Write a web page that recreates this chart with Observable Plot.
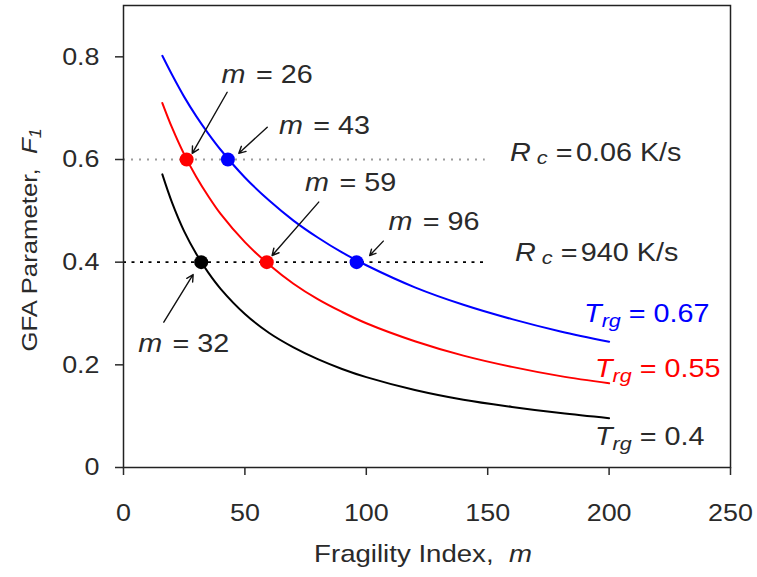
<!DOCTYPE html>
<html><head><meta charset="utf-8">
<script src="https://cdn.jsdelivr.net/npm/d3@7"></script>
<script src="https://cdn.jsdelivr.net/npm/@observablehq/plot@0.6"></script>
<style>body{margin:0;background:#fff}#chart{width:757px;height:577px}</style>
</head><body><div id="chart"></div>
<script>
// ---- data ----
const fragility = [16,20,25,30,35,40,50,60,70,80,90,100,120,140,160,180,200];
const f1Trg067 = [0.802,0.765,0.722,0.684,0.650,0.619,0.565,0.520,0.481,0.448,0.419,0.394,0.351,0.317,0.289,0.265,0.245];
const f1Trg055 = [0.710,0.662,0.610,0.566,0.528,0.494,0.439,0.395,0.358,0.328,0.303,0.281,0.246,0.218,0.196,0.178,0.164];
const f1Trg040 = [0.571,0.516,0.460,0.416,0.379,0.348,0.299,0.262,0.234,0.211,0.192,0.176,0.151,0.132,0.118,0.106,0.096];
const seriesNames = ["0.67","0.55","0.4"];
const seriesColors = ["#0000ff","#ff0000","#000000"];
const pointM = [26,43,32,59,96];
const pointF1 = [0.6,0.6,0.4,0.4,0.4];
const pointSeries = ["0.55","0.67","0.4","0.55","0.67"];
const rcLevels = [0.6,0.4];
const rcLabels = ["0.06 K/s","940 K/s"];
const rcLineEnd = 149;
const xTicks = [0,50,100,150,200,250];
const yTicks = [0,0.2,0.4,0.6,0.8];

// annotation anchors (data units)
const mLabelX = [40.6,64.2,6.3,75.0,109.3];
const mLabelY = [0.7475,0.6487,0.2246,0.5383,0.4617];
const arrowFrom = [[42.7,0.731],[59.2,0.663],[16.6,0.283],[80.4,0.517],[107.0,0.441]];
const arrowTo = [[28.3,0.612],[47.5,0.612],[28.7,0.376],[61.2,0.413],[101.4,0.413]];
const rcLabelX = [159.4,161.4];
const rcLabelY = [0.5961,0.4019];
const trgLabelX = [189.9,194.4,194.4];
const trgLabelY = [0.2831,0.1759,0.0429];

// ---- tables ----
const curveSets = [f1Trg067,f1Trg055,f1Trg040];
const rows = [];
curveSets.forEach((vals,k)=>vals.forEach((v,i)=>rows.push({m:fragility[i],f:v,s:seriesNames[k]})));
const points = pointM.map((m,i)=>({m,f:pointF1[i],s:pointSeries[i]}));
const arrows = arrowFrom.map((a,i)=>({x1:a[0],y1:a[1],x2:arrowTo[i][0],y2:arrowTo[i][1]}));

const FONT = "'Liberation Sans', Arial, Helvetica, sans-serif";
const TEXT = "#2a2a2a";
const plot = Plot.plot({
  width:757, height:577,
  marginLeft:123, marginRight:27, marginTop:5, marginBottom:110,
  style:{fontFamily:FONT, fontSize:"24px", color:TEXT, background:"#fff"},
  x:{domain:[0,250]},
  y:{domain:[0,0.9]},
  color:{domain:seriesNames, range:seriesColors},
  marks:[
    Plot.ruleY([rcLevels[0]],{x1:0,x2:rcLineEnd,stroke:"#9c9c9c",strokeWidth:2,strokeDasharray:"2,6"}),
    Plot.ruleY([rcLevels[1]],{x1:0,x2:rcLineEnd,stroke:"#000",strokeWidth:1.6,strokeDasharray:"3,5.5"}),
    Plot.line(rows,{x:"m",y:"f",z:"s",stroke:"s",strokeWidth:2,curve:"catmull-rom"}),
    Plot.arrow(arrows,{x1:"x1",y1:"y1",x2:"x2",y2:"y2",stroke:"#111",strokeWidth:1.4,headLength:8,headAngle:55}),
    Plot.dot(points,{x:"m",y:"f",fill:"s",r:7}),
    Plot.frame({stroke:"#222",strokeWidth:1.5}),
    Plot.axisX({ticks:xTicks,tickSize:8,tickPadding:28,label:null,strokeWidth:1.5}),
    Plot.axisY({ticks:yTicks,tickSize:8,tickPadding:16,label:null,strokeWidth:1.5,
      tickFormat:d=>d===0?"0":d.toFixed(1)})
  ]
});
document.getElementById("chart").appendChild(plot);

const sx = plot.scale("x"), sy = plot.scale("y");
const svg = d3.select(plot);
const STRETCH = 1.15;

// stretch tick labels horizontally like the original
svg.selectAll("g[aria-label='x-axis tick label'] text, g[aria-label='y-axis tick label'] text").each(function(){
  const t = d3.select(this);
  const tr = t.attr("transform") || "";
  t.attr("transform", tr + " scale(1.12,1)");
});

function rich(x, y, parts, opts={}){
  const size = opts.size || 25;
  const t = svg.append("text")
    .attr("transform", `translate(${x},${y})` + (opts.rotate?` rotate(${opts.rotate})`:"") + ` scale(${opts.stretch||STRETCH},1)`)
    .attr("font-family", FONT).attr("font-size", size)
    .attr("fill", opts.fill || TEXT)
    .attr("text-anchor", opts.anchor || "start")
    .style("white-space","pre");
  parts.forEach(p=>{
    const s = t.append("tspan").text(p.t);
    if (p.i) s.attr("font-style","italic");
    if (p.size) s.attr("font-size", p.size);
    if (p.dy) s.attr("dy", p.dy);
    if (p.dx) s.attr("dx", p.dx);
  });
  return t;
}

// m = ... labels
pointM.forEach((m,i)=>{
  rich(sx.apply(mLabelX[i]), sy.apply(mLabelY[i]), [{t:"m",i:true},{t:"= "+m,dx:9}]);
});
// Rc labels
rcLabels.forEach((lab,i)=>{
  rich(sx.apply(rcLabelX[i]), sy.apply(rcLabelY[i]), [
    {t:"R",i:true},{t:" c",i:true,size:19,dy:3},{t:" =",dy:-3},{t:lab,dx:3}
  ]);
});
// Trg labels
seriesNames.forEach((n,i)=>{
  rich(sx.apply(trgLabelX[i]), sy.apply(trgLabelY[i]), [
    {t:"T",i:true},{t:"rg",i:true,size:18.75,dy:5},{t:" = "+n,dy:-5}
  ], {fill:seriesColors[i]==="#000000"?TEXT:seriesColors[i]});
});
// axis titles
rich(423, 561.5, [{t:"Fragility Index,  "},{t:"m",i:true}], {size:24, anchor:"middle"});
rich(37, 240, [{t:"GFA Parameter,  "},{t:"F",i:true},{t:"1",i:true,size:16,dy:4}], {size:23, anchor:"middle", rotate:-90, stretch:1.12});
</script>
</body></html>
